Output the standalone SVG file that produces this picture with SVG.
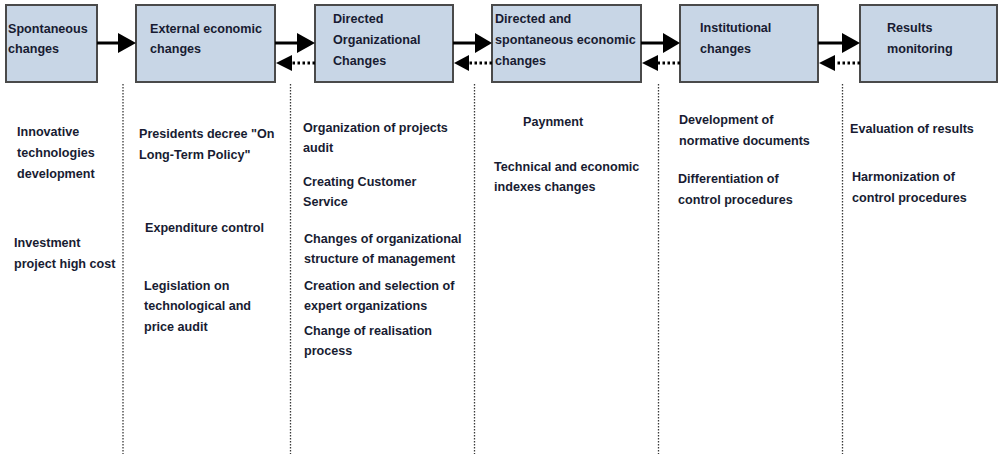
<svg xmlns="http://www.w3.org/2000/svg" width="999" height="454" viewBox="0 0 999 454">
<style>
.box{fill:#c8d6e6;stroke:#4a4a4a;stroke-width:2}
text{font-family:"Liberation Sans",Arial,sans-serif;font-weight:bold;font-size:12.6px;fill:#181c32}
.solid{stroke:#000;stroke-width:3;fill:none}
.dot{stroke:#000;stroke-width:3;fill:none;stroke-dasharray:2.5 2.5}
.vline{stroke:#3a3a3a;stroke-width:1.3;fill:none;stroke-dasharray:1.5 1.5}
.head{fill:#000}
</style>
<rect width="999" height="454" fill="#fff"/>
<g id="node-spontaneous">
<rect class="box" x="6" y="5" width="91" height="77"/>
<text x="8" y="33">Spontaneous</text><text x="8" y="53">changes</text>
</g>
<g id="node-external">
<rect class="box" x="136" y="5" width="139" height="77"/>
<text x="150" y="33">External economic</text><text x="150" y="53">changes</text>
</g>
<g id="node-directed-org">
<rect class="box" x="315" y="5" width="138" height="77"/>
<text x="333" y="23">Directed</text><text x="333" y="44">Organizational</text><text x="333" y="65">Changes</text>
</g>
<g id="node-directed-spont">
<rect class="box" x="492" y="5" width="149" height="77"/>
<text x="495" y="23">Directed and</text><text x="495" y="44">spontaneous economic</text><text x="495" y="65">changes</text>
</g>
<g id="node-institutional">
<rect class="box" x="680" y="5" width="138" height="77"/>
<text x="700" y="32">Institutional</text><text x="700" y="53">changes</text>
</g>
<g id="node-results">
<rect class="box" x="860" y="5" width="137" height="77"/>
<text x="887" y="32">Results</text><text x="887" y="53">monitoring</text>
</g>
<g id="connectors">
<line class="solid" x1="97" y1="43" x2="119" y2="43"/><polygon class="head" points="118,33 136,43 118,53"/>
<line class="solid" x1="275" y1="43" x2="298" y2="43"/><polygon class="head" points="297,33 315,43 297,53"/>
<line class="solid" x1="453" y1="43" x2="476" y2="43"/><polygon class="head" points="475,33 492,43 475,53"/>
<line class="solid" x1="641" y1="43" x2="664" y2="43"/><polygon class="head" points="663,33 680,43 663,53"/>
<line class="solid" x1="818" y1="43" x2="843" y2="43"/><polygon class="head" points="842,33 860,43 842,53"/>
<line class="dot" x1="315" y1="63" x2="291" y2="63"/><polygon class="head" points="292,55 276,63 292,71"/>
<line class="dot" x1="492" y1="63" x2="468" y2="63"/><polygon class="head" points="469,55 454,63 469,71"/>
<line class="dot" x1="680" y1="63" x2="657" y2="63"/><polygon class="head" points="658,55 642,63 658,71"/>
<line class="dot" x1="860" y1="63" x2="834" y2="63"/><polygon class="head" points="835,55 819,63 835,71"/>
</g>
<g id="dividers">
<line class="vline" x1="123" y1="84" x2="123" y2="454"/>
<line class="vline" x1="290.5" y1="84" x2="290.5" y2="454"/>
<line class="vline" x1="474.5" y1="84" x2="474.5" y2="454"/>
<line class="vline" x1="658.5" y1="84" x2="658.5" y2="454"/>
<line class="vline" x1="842.5" y1="84" x2="842.5" y2="454"/>
</g>
<g id="col1">
<text x="17" y="136">Innovative</text><text x="17" y="157">technologies</text><text x="17" y="178">development</text>
<text x="14" y="247">Investment</text><text x="14" y="268">project high cost</text>
</g>
<g id="col2">
<text x="139" y="138">Presidents decree "On</text><text x="139" y="159">Long-Term Policy"</text>
<text x="145" y="232">Expenditure control</text>
<text x="144" y="290">Legislation on</text><text x="144" y="310">technological and</text><text x="144" y="331">price audit</text>
</g>
<g id="col3">
<text x="303" y="132">Organization of projects</text><text x="303" y="152">audit</text>
<text x="303" y="186">Creating Customer</text><text x="303" y="206">Service</text>
<text x="304" y="243">Changes of organizational</text><text x="304" y="263">structure of management</text>
<text x="304" y="290">Creation and selection of</text><text x="304" y="310">expert organizations</text>
<text x="304" y="335">Change of realisation</text><text x="304" y="355">process</text>
</g>
<g id="col4">
<text x="523" y="126">Paynment</text>
<text x="494" y="171">Technical and economic</text><text x="494" y="191">indexes changes</text>
</g>
<g id="col5">
<text x="679" y="124">Development of</text><text x="679" y="145">normative documents</text>
<text x="678" y="183">Differentiation of</text><text x="678" y="204">control procedures</text>
</g>
<g id="col6">
<text x="850" y="133">Evaluation of results</text>
<text x="852" y="181">Harmonization of</text><text x="852" y="202">control procedures</text>
</g>
</svg>
